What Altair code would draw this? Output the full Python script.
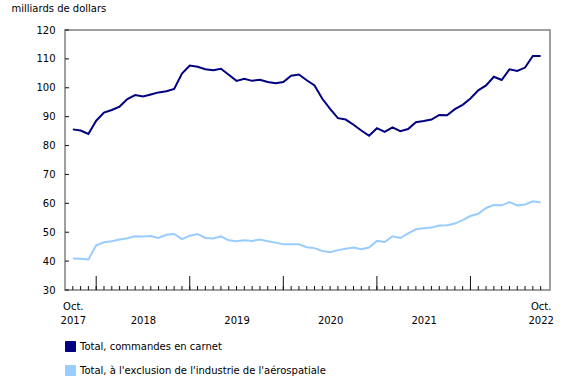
import altair as alt
import pandas as pd

# ---- data ----
months = [d.strftime("%Y-%m") for d in pd.date_range("2017-10-01", "2022-10-01", freq="MS")]

series_names = ["Total, commandes en carnet",
                "Total, à l'exclusion de l'industrie de l'aérospatiale"]
series_colors = ["#000080", "#99ccff"]

backlog = [85.6, 85.2, 84.0, 88.6, 91.4, 92.3, 93.5, 96.1, 97.5, 97.0,
           97.7, 98.4, 98.8, 99.6, 104.9, 107.7, 107.3, 106.4, 106.1, 106.6,
           104.5, 102.4, 103.1, 102.4, 102.8, 102.0, 101.6, 102.0, 104.2, 104.6,
           102.6, 100.8, 96.2, 92.7, 89.5, 89.0, 87.2, 85.2, 83.4, 86.0,
           84.7, 86.3, 85.0, 85.7, 88.1, 88.5, 89.0, 90.6, 90.5, 92.6,
           94.1, 96.3, 99.1, 100.8, 103.8, 102.7, 106.4, 105.8, 107.0, 111.0,
           111.0]

excl_aero = [40.9, 40.8, 40.6, 45.5, 46.5, 46.9, 47.5, 47.9, 48.6, 48.5,
             48.7, 48.0, 49.1, 49.4, 47.6, 48.8, 49.4, 48.0, 47.8, 48.6,
             47.2, 46.9, 47.2, 47.0, 47.5, 46.9, 46.4, 45.8, 45.8, 45.8,
             44.8, 44.5, 43.5, 43.1, 43.8, 44.3, 44.7, 44.1, 44.7, 47.0,
             46.6, 48.6, 48.0, 49.6, 51.0, 51.4, 51.6, 52.3, 52.4, 53.0,
             54.2, 55.6, 56.4, 58.4, 59.4, 59.3, 60.4, 59.3, 59.6, 60.7,
             60.3]

y_ticks = [30, 40, 50, 60, 70, 80, 90, 100, 110, 120]
x_label_months = ["2017-10", "2018-07", "2019-07", "2020-07", "2021-07", "2022-10"]
x_label_line1 = ["Oct.", " ", " ", " ", " ", "Oct."]
x_label_line2 = ["2017", "2018", "2019", "2020", "2021", "2022"]
y_title = "milliards de dollars"

# ---- tables ----
rows = []
for s, vals in zip(series_names, [backlog, excl_aero]):
    for i, (m, v) in enumerate(zip(months, vals)):
        rows.append({"idx": i, "month": m, "series": s, "value": v})
df = pd.DataFrame(rows)

ticks_df = pd.DataFrame({"idx": list(range(len(months))), "month": months})
ticks_df["major"] = ticks_df["month"].str.endswith("-01")
ytick_df = pd.DataFrame({"value": y_ticks})

label_idx = [months.index(m) for m in x_label_months]
expr = "''"
for i, a, b in reversed(list(zip(label_idx, x_label_line1, x_label_line2))):
    expr = f"datum.value === {i} ? ['{a}', '{b}'] : " + expr

W, H = 485, 260
FONT = "DejaVu Sans"

x_enc = alt.X("idx:Q",
              scale=alt.Scale(domain=[-1, 61.2], nice=False, zero=False),
              axis=alt.Axis(values=label_idx, labelExpr=expr, title=None,
                            ticks=False, tickSize=0, domain=False, grid=False,
                            labelPadding=11, labelLineHeight=14,
                            labelOverlap=False, labelFlush=False,
                            labelFont=FONT, labelFontSize=10, labelColor="#000"))
y_enc = alt.Y("value:Q",
              scale=alt.Scale(domain=[30, 120], nice=False, zero=False),
              axis=alt.Axis(values=y_ticks, title=y_title, ticks=False, tickSize=0,
                            domain=False, grid=False, labelPadding=10,
                            labelFont=FONT, labelFontSize=10, labelColor="#000",
                            titleAngle=0, titleX=-54, titleY=-19, titleAlign="left",
                            titleBaseline="alphabetic", titleFont=FONT,
                            titleFontSize=10, titleFontWeight="normal",
                            titleColor="#000"))

color_scale = alt.Scale(domain=series_names, range=series_colors)

lines = alt.Chart(df).mark_line(strokeWidth=2).encode(
    x=x_enc, y=y_enc,
    stroke=alt.Stroke("series:N", scale=color_scale, legend=None),
    detail="series:N",
)

legend_layer = alt.Chart(df).mark_square(opacity=0).encode(
    x=x_enc, y=y_enc,
    fill=alt.Fill("series:N", scale=color_scale,
                  legend=alt.Legend(title=None, orient="none", legendX=0, legendY=311,
                                    direction="vertical", symbolType="square",
                                    symbolSize=100, symbolOpacity=1,
                                    symbolStrokeColor="#333333", symbolStrokeWidth=1,
                                    labelFont=FONT, labelFontSize=10, labelColor="#000",
                                    labelOffset=4, rowPadding=9, padding=0,
                                    labelLimit=400)),
)

minor_ticks = alt.Chart(ticks_df).mark_rule(color="#111111", strokeWidth=1).encode(
    x=x_enc, y=alt.value(H), y2=alt.value(H - 4))

major_ticks = alt.Chart(ticks_df).transform_filter("datum.major").mark_rule(
    color="#111111", strokeWidth=1).encode(
    x=x_enc, y=alt.value(H), y2=alt.value(H - 14))

y_tick_marks = alt.Chart(ytick_df).mark_rule(color="#111111", strokeWidth=1).encode(
    y=y_enc, x=alt.value(0), x2=alt.value(4))

chart = alt.layer(minor_ticks, major_ticks, y_tick_marks, legend_layer, lines).properties(
    width=W, height=H,
    autosize=alt.AutoSizeParams(type="none"),
    padding={"left": 65, "top": 30, "right": 30, "bottom": 95},
    background="white",
).configure_view(stroke="#808080", strokeWidth=1.5)

chart.save("out.html", embed_options={"renderer": "svg", "actions": False})
